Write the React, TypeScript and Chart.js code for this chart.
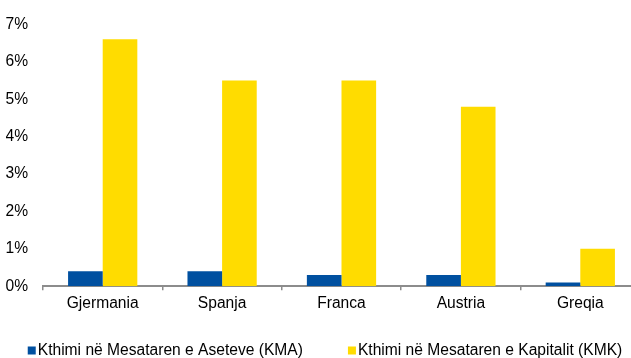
import React, { useEffect, useRef } from "react";
import { Chart, registerables } from "chart.js";

Chart.register(...registerables);

const categories = ["Gjermania", "Spanja", "Franca", "Austria", "Greqia"];
const kmaValues = [0.4, 0.4, 0.3, 0.3, 0.1];
const kmkValues = [6.6, 5.5, 5.5, 4.8, 1.0];
const seriesLabels = [
  "Kthimi në Mesataren e Aseteve (KMA)",
  "Kthimi në Mesataren e Kapitalit (KMK)",
];
const yTicks = [0, 1, 2, 3, 4, 5, 6, 7];

const BLUE = "#0050a0";
const YELLOW = "#ffdc00";
const FONT_FAMILY = "'Liberation Sans', Arial, sans-serif";
const FONT = { family: FONT_FAMILY, size: 15.6 };

const bottomLegend = {
  id: "bottomLegend",
  afterDraw(chart: any, _args: any, opts: any) {
    const ctx = chart.ctx;
    ctx.save();
    ctx.font = `${FONT.size}px ${FONT_FAMILY}`;
    ctx.textBaseline = "middle";
    ctx.textAlign = "left";
    const box = opts.boxSize;
    const gap = opts.boxGap;
    const items = chart.data.datasets.map((ds: any) => ({
      text: ds.label,
      color: ds.backgroundColor,
      w: box + gap + ctx.measureText(ds.label).width,
    }));
    const total =
      items.reduce((s: number, it: any) => s + it.w, 0) +
      opts.itemGap * (items.length - 1);
    let x = opts.centerX - total / 2;
    const y = opts.y;
    items.forEach((it: any) => {
      ctx.fillStyle = it.color;
      ctx.fillRect(x, y - box / 2, box, box);
      ctx.fillStyle = "#000";
      ctx.fillText(it.text, x + box + gap, y);
      x += it.w + opts.itemGap;
    });
    ctx.restore();
  },
};

export default function App() {
  const ref = useRef<HTMLCanvasElement | null>(null);

  useEffect(() => {
    document.body.style.margin = "0";
    document.body.style.overflow = "hidden";
    const canvas = ref.current;
    if (!canvas) return;
    const chart = new Chart(canvas, {
      type: "bar",
      data: {
        labels: categories,
        datasets: [
          {
            label: seriesLabels[0],
            data: kmaValues,
            backgroundColor: BLUE,
            borderWidth: 0,
          },
          {
            label: seriesLabels[1],
            data: kmkValues,
            backgroundColor: YELLOW,
            borderWidth: 0,
          },
        ],
      },
      plugins: [bottomLegend],
      options: {
        responsive: false,
        animation: false,
        layout: { padding: { left: 6, top: 14, right: 0, bottom: 41 } },
        datasets: {
          bar: { categoryPercentage: 0.58, barPercentage: 1.0 },
        },
        plugins: {
          tooltip: { enabled: false },
          legend: { display: false },
          bottomLegend: {
            centerX: 325,
            y: 350.5,
            boxSize: 8,
            boxGap: 2,
            itemGap: 45,
          },
        } as any,
        scales: {
          x: {
            afterFit: (scale: any) => {
              scale.paddingLeft = 0;
              scale.paddingRight = 0;
            },
            grid: {
              display: true,
              offset: true,
              drawOnChartArea: false,
              drawTicks: true,
              tickLength: 4,
              color: "#8c8c8c",
              lineWidth: 1.5,
            },
            border: { display: true, color: "#8c8c8c", width: 2 },
            ticks: { color: "#000", font: FONT, padding: 4 },
          },
          y: {
            min: 0,
            max: 7,
            afterBuildTicks: (axis: any) => {
              axis.ticks = yTicks.map((v) => ({ value: v }));
            },
            afterFit: (scale: any) => {
              scale.width = 37;
            },
            grid: { display: false, drawTicks: false },
            border: { display: false },
            ticks: {
              color: "#000",
              font: FONT,
              padding: 15,
              callback: (v: any) => `${v}%`,
            },
          },
        },
      },
    });
    return () => chart.destroy();
  }, []);

  return (
    <div style={{ width: 640, height: 358, overflow: "hidden" }}>
      <canvas ref={ref} width={640} height={358} />
    </div>
  );
}
